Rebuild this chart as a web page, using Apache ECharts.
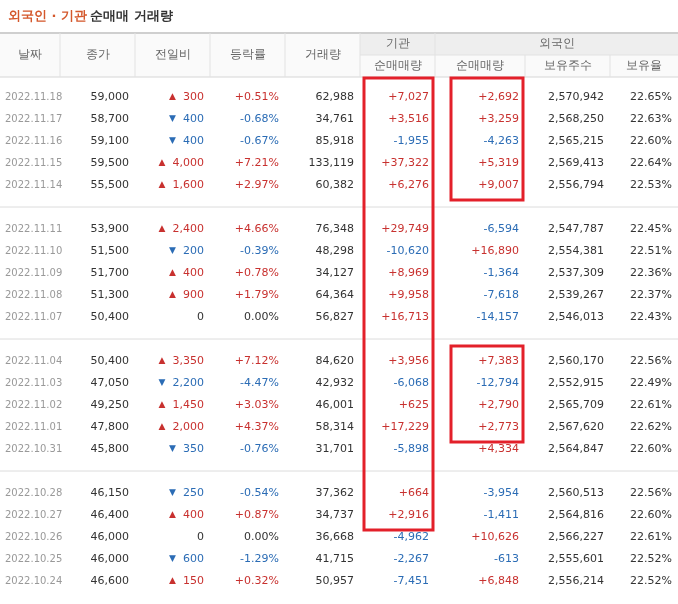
<!DOCTYPE html>
<html><head><meta charset="utf-8">
<script src="https://cdn.jsdelivr.net/npm/echarts@6/dist/echarts.min.js"></script>
<style>html,body{margin:0;background:#fff}#c{width:678px;height:604px}</style>
</head><body><div id="c"></div>
<script>
// 외국인·기관 순매매 거래량 표 (custom series로 셀 텍스트를 그림)
const dates = ['2022.11.18','2022.11.17','2022.11.16','2022.11.15','2022.11.14','2022.11.11','2022.11.10','2022.11.09','2022.11.08','2022.11.07','2022.11.04','2022.11.03','2022.11.02','2022.11.01','2022.10.31','2022.10.28','2022.10.27','2022.10.26','2022.10.25','2022.10.24'];
const closes = [59000,58700,59100,59500,55500,53900,51500,51700,51300,50400,50400,47050,49250,47800,45800,46150,46400,46000,46000,46600];
const changes = [300,-400,-400,4000,1600,2400,-200,400,900,0,3350,-2200,1450,2000,-350,-250,400,0,-600,150];
const rates = [0.51,-0.68,-0.67,7.21,2.97,4.66,-0.39,0.78,1.79,0.00,7.12,-4.47,3.03,4.37,-0.76,-0.54,0.87,0.00,-1.29,0.32];
const volumes = [62988,34761,85918,133119,60382,76348,48298,34127,64364,56827,84620,42932,46001,58314,31701,37362,34737,36668,41715,50957];
const instNet = [7027,3516,-1955,37322,6276,29749,-10620,8969,9958,16713,3956,-6068,625,17229,-5898,664,2916,-4962,-2267,-7451];
const foreignNet = [2692,3259,-4263,5319,9007,-6594,16890,-1364,-7618,-14157,7383,-12794,2790,2773,4334,-3954,-1411,10626,-613,6848];
const holdings = [2570942,2568250,2565215,2569413,2556794,2547787,2554381,2537309,2539267,2546013,2560170,2552915,2565709,2567620,2564847,2560513,2564816,2566227,2555601,2556214];
const holdRates = [22.65,22.63,22.60,22.64,22.53,22.45,22.51,22.36,22.37,22.43,22.56,22.49,22.61,22.62,22.60,22.56,22.60,22.61,22.52,22.52];
// 강조 박스: [열 index, 시작 행, 끝 행]
const boxes = [[5,0,16],[6,0,4],[6,10,13]];

const colEdges = [0,60,135,210,285,360,435,525,610,678];
const RED = '#c8312f', BLUE = '#2b6cb5', TXT = '#333';
const slotOf = (i) => i + Math.floor(i / 5);
const nSlots = slotOf(dates.length - 1) + 1;
const slots = Array.from({ length: nSlots }, (_, k) => 's' + k);
const fmt = (v) => Math.abs(v).toLocaleString('en-US');
const signed = (v) => (v > 0 ? '+' : v < 0 ? '-' : '') + fmt(v);
const col = (v) => (v > 0 ? RED : v < 0 ? BLUE : TXT);
const F = 'Tahoma, "DejaVu Sans", sans-serif';

function cellText(x, y, text, color, extra) {
  return { type: 'text', x, y, style: Object.assign({ text, fill: color, font: '11px ' + F, align: 'right', verticalAlign: 'middle' }, extra || {}) };
}

function renderRow(params, api) {
  const i = api.value(0);
  const p = (c) => api.coord([colEdges[c + 1] - 6, slots[slotOf(i)]]);
  const y = p(0)[1];
  const ch = changes[i];
  const tri = ch > 0 ? '▲' : ch < 0 ? '▼' : '';
  const kids = [
    { type: 'text', x: api.coord([5, slots[0]])[0], y, style: { text: dates[i], fill: '#999', font: '10px ' + F, align: 'left', verticalAlign: 'middle' } },
    cellText(p(1)[0], y, fmt(closes[i]), TXT),
    cellText(p(2)[0], y, (tri ? '{t|' + tri + '}  ' : '') + fmt(ch), col(ch), { rich: { t: { font: '9px ' + F, fill: col(ch) } } }),
    cellText(p(3)[0], y, (rates[i] > 0 ? '+' : '') + rates[i].toFixed(2) + '%', col(rates[i])),
    cellText(p(4)[0], y, fmt(volumes[i]), TXT),
    cellText(p(5)[0], y, signed(instNet[i]), col(instNet[i])),
    cellText(p(6)[0], y, signed(foreignNet[i]), col(foreignNet[i])),
    cellText(p(7)[0], y, fmt(holdings[i]), TXT),
    cellText(p(8)[0], y, holdRates[i].toFixed(2) + '%', TXT),
  ];
  return { type: 'group', children: kids };
}

function renderSep(params, api) {
  const y = api.coord([0, slots[api.value(0)]])[1];
  return { type: 'line', shape: { x1: 0, y1: y, x2: 678, y2: y }, style: { stroke: '#dcdcdc', lineWidth: 1 } };
}

function renderBox(params, api) {
  const c = api.value(0), r0 = api.value(1), r1 = api.value(2);
  const a = api.coord([colEdges[c], slots[slotOf(r0)]]);
  const b = api.coord([colEdges[c + 1], slots[slotOf(r1)]]);
  const top = r0 === 0 ? 78 : a[1] - 15;
  const left = a[0] + (c === 6 ? 16 : 4);
  const right = b[0] - 2;
  return { type: 'rect', shape: { x: left, y: top, width: right - left, height: b[1] + 15 - top }, style: { fill: 'none', stroke: '#e3202a', lineWidth: 3 } };
}

const headers = ['날짜','종가','전일비','등락률','거래량'];
const graphic = [
  { type: 'text', left: 8, top: 10, style: { rich: { a: { fill: '#d4582c', font: 'bold 13px ' + F }, b: { fill: '#333', font: 'bold 13px ' + F } }, text: '{a|외국인 · 기관} {b|순매매 거래량}' } },
  { type: 'rect', shape: { x: 0, y: 33, width: 678, height: 44 }, style: { fill: '#fafafa' } },
  { type: 'rect', shape: { x: 360, y: 33, width: 318, height: 22 }, style: { fill: '#eeeeee' } },
  { type: 'line', shape: { x1: 0, y1: 33, x2: 678, y2: 33 }, style: { stroke: '#cfcfcf', lineWidth: 2 } },
  { type: 'line', shape: { x1: 360, y1: 55, x2: 678, y2: 55 }, style: { stroke: '#e2e2e2' } },
  { type: 'line', shape: { x1: 0, y1: 77, x2: 678, y2: 77 }, style: { stroke: '#d6d6d6' } },
];
colEdges.slice(1, 9).forEach((x, k) => {
  graphic.push({ type: 'line', shape: { x1: x, y1: k >= 6 ? 55 : 33, x2: x, y2: 77 }, style: { stroke: '#e2e2e2' } });
});
headers.forEach((h, k) => {
  graphic.push({ type: 'text', x: (colEdges[k] + colEdges[k + 1]) / 2, y: 55, style: { text: h, fill: '#666', font: '12px ' + F, align: 'center', verticalAlign: 'middle' } });
});
[['기관', 360, 435, 44], ['외국인', 435, 678, 44], ['순매매량', 360, 435, 66], ['순매매량', 435, 525, 66], ['보유주수', 525, 610, 66], ['보유율', 610, 678, 66]].forEach(([h, a, b, y]) => {
  graphic.push({ type: 'text', x: (a + b) / 2, y, style: { text: h, fill: '#666', font: '12px ' + F, align: 'center', verticalAlign: 'middle' } });
});

const chart = echarts.init(document.getElementById('c'), null, { renderer: 'canvas' });
chart.setOption({
  animation: false,
  grid: { left: 0, right: 0, top: 86, height: nSlots * 22 },
  xAxis: { type: 'value', min: 0, max: 678, show: false },
  yAxis: { type: 'category', data: slots, inverse: true, show: false },
  graphic,
  series: [
    { type: 'custom', renderItem: renderSep, data: [5, 11, 17].map((k) => [k]) },
    { type: 'custom', renderItem: renderRow, data: dates.map((d, i) => [i]) },
    { type: 'custom', renderItem: renderBox, data: boxes, z: 5 },
  ],
});
</script></body></html>
